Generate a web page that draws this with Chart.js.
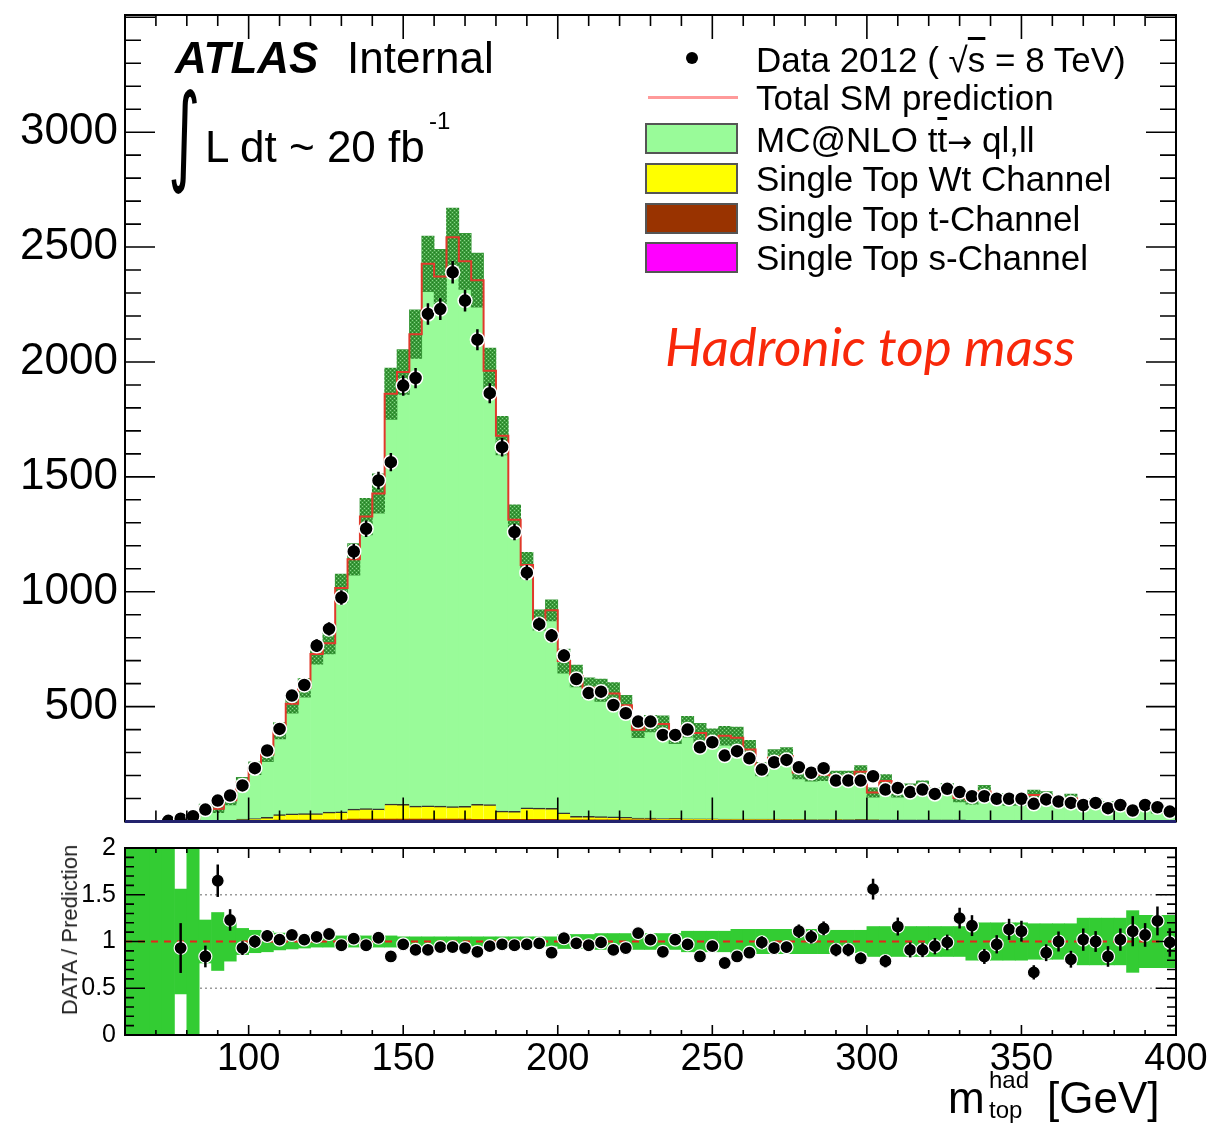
<!DOCTYPE html>
<html lang="en">
<head>
<meta charset="UTF-8">
<title>Hadronic top mass</title>
<script src="https://cdn.jsdelivr.net/npm/chart.js"></script>
<style>
    body {
        margin: 0;
        background: #fff;
        width: 1208px;
        height: 1123px;
        position: relative;
        overflow: hidden;
        font-family: "Liberation Sans", Arial, sans-serif;
    }
    canvas { position: absolute; left: 0; }
    #mainChart { top: 0; }
    #ratioChart { top: 830px; }
    .txt { position: absolute; white-space: nowrap; line-height: 1; color: #000; z-index: 5; }
    .leg { font-size: 35px; left: 756px; }
    .box { position: absolute; left: 645px; width: 89px; height: 27px; border: 2px solid #555; z-index: 5; }
    .ov { text-decoration: overline; }
</style>
</head>
<body>
    <canvas id="mainChart" width="1208" height="830"></canvas>
    <canvas id="ratioChart" width="1208" height="293"></canvas>

    <!-- ATLAS label -->
    <div class="txt" style="left:175px;top:36px;font-size:44px;font-weight:bold;font-style:italic;">ATLAS</div>
    <div class="txt" style="left:347px;top:36px;font-size:44px;">Internal</div>
    <div class="txt" style="left:168px;top:80px;font-size:62px;font-family:'DejaVu Sans';transform:scale(1.0,1.75);transform-origin:top left;">∫</div>
    <div class="txt" style="left:205px;top:125px;font-size:44px;">L dt ~ 20 fb</div>
    <div class="txt" style="left:429px;top:109px;font-size:24px;">-1</div>

    <!-- legend -->
    <div style="position:absolute;left:686px;top:52px;width:12px;height:12px;border-radius:50%;background:#000;z-index:5;"></div>
    <div style="position:absolute;left:648px;top:96px;width:90px;height:3px;background:#ff9a9a;z-index:5;"></div>
    <div class="box" style="top:123px;background:#99fb99;"></div>
    <div class="box" style="top:163px;background:#ffff00;"></div>
    <div class="box" style="top:203px;background:#993300;"></div>
    <div class="box" style="top:242px;background:#ff00ff;"></div>
    <div class="txt leg" style="top:42px;">Data 2012 ( √<span class="ov">s</span> = 8 TeV)</div>
    <div class="txt leg" style="top:80px;">Total SM prediction</div>
    <div class="txt leg" style="top:122px;">MC@NLO t<span class="ov">t</span><span style="font-family:'DejaVu Sans';font-size:30px;">→</span> ql,ll</div>
    <div class="txt leg" style="top:161px;">Single Top Wt Channel</div>
    <div class="txt leg" style="top:201px;">Single Top t-Channel</div>
    <div class="txt leg" style="top:240px;">Single Top s-Channel</div>

    <div class="txt" style="left:665px;top:319px;font-size:53px;font-family:Lato,'Open Sans',sans-serif;font-style:italic;color:#f8280a;">Hadronic top mass</div>

    <!-- axis titles -->
    <div class="txt" style="left:70px;top:930px;font-size:22px;color:#222;transform:translate(-50%,-50%) rotate(-90deg);">DATA / Prediction</div>
    <div class="txt" style="left:948px;top:1076px;font-size:44px;">m</div>
    <div class="txt" style="left:989px;top:1068px;font-size:24px;">had</div>
    <div class="txt" style="left:989px;top:1098px;font-size:24px;">top</div>
    <div class="txt" style="left:1047px;top:1076px;font-size:44px;">[GeV]</div>

<script>
    // 4 GeV bins between 60 and 400 GeV (bin centres)
    const binCentres = [
        62, 66, 70, 74, 78, 82, 86, 90, 94, 98,
        102, 106, 110, 114, 118, 122, 126, 130, 134, 138,
        142, 146, 150, 154, 158, 162, 166, 170, 174, 178,
        182, 186, 190, 194, 198, 202, 206, 210, 214, 218,
        222, 226, 230, 234, 238, 242, 246, 250, 254, 258,
        262, 266, 270, 274, 278, 282, 286, 290, 294, 298,
        302, 306, 310, 314, 318, 322, 326, 330, 334, 338,
        342, 346, 350, 354, 358, 362, 366, 370, 374, 378,
        382, 386, 390, 394, 398
    ];
    const binWidth = 4;

    // Data 2012
    const dataCounts = [
        null, null, null, 3, 12, 23, 52, 91, 113, 157,
        232, 309, 403, 548, 594, 765, 838, 975, 1175, 1274,
        1484, 1564, 1897, 1930, 2209, 2230, 2390, 2267, 2097, 1864,
        1629, 1260, 1083, 859, 809, 722, 620, 559, 565, 507,
        471, 435, 435, 377, 377, 400, 323, 345, 287, 306,
        275, 226, 258, 268, 236, 212, 232, 178, 178, 178,
        197, 139, 146, 128, 139, 120, 142, 128, 110, 110,
        99, 99, 99, 77, 96, 87, 81, 72, 81, 58,
        72, 48, 72, 62, 43
    ];

    // MC@NLO ttbar -> ql,ll
    const ttbarMC = [
        0, 0, 0, 0, 13, 0, 60, 52, 88, 159,
        219, 274, 365, 479, 548, 694, 735, 974, 1087, 1271,
        1372, 1786, 1881, 2054, 2359, 2305, 2478, 2372, 2281, 1888,
        1634, 1269, 1057, 819, 862, 660, 610, 560, 550, 537,
        488, 384, 411, 411, 356, 400, 373, 351, 362, 353,
        302, 218, 267, 276, 204, 194, 196, 187, 188, 208,
        118, 169, 119, 134, 146, 119, 136, 95, 89, 126,
        97, 83, 84, 110, 104, 82, 95, 66, 76, 64,
        66, 38, 62, 46, 38
    ];

    // single top Wt channel
    const singleTopWt = [
        0, 0, 0, 0, 0, 0, 2, 3, 4, 8,
        10, 14, 24, 27, 28, 28, 34, 35, 44, 46,
        45, 66, 65, 57, 58, 57, 55, 56, 66, 65,
        36, 35, 50, 49, 48, 31, 16, 15, 14, 13,
        11, 8, 8, 7, 8, 6, 6, 6, 5, 5,
        5, 4, 4, 4, 4, 3, 3, 4, 4, 5,
        4, 3, 3, 3, 3, 3, 3, 3, 2, 2,
        2, 2, 2, 2, 2, 2, 2, 2, 2, 2,
        2, 2, 2, 2, 2
    ];

    // single top t-channel
    const singleTopT = [
        0, 0, 0, 0, 0, 0, 0, 0, 0, 1,
        2, 3, 5, 5, 5, 6, 6, 6, 9, 9,
        9, 9, 9, 9, 9, 9, 9, 9, 8, 8,
        8, 8, 8, 8, 8, 6, 6, 6, 6, 6,
        6, 6, 6, 5, 5, 5, 5, 5, 5, 5,
        5, 5, 5, 4, 4, 4, 4, 4, 4, 4,
        4, 4, 4, 4, 4, 4, 4, 4, 3, 3,
        3, 3, 3, 3, 3, 3, 3, 3, 3, 3,
        3, 3, 3, 3, 3
    ];

    // single top s-channel
    const singleTopS = [
        0, 0, 0, 0, 0, 0, 0, 0, 0, 1,
        1, 1, 1, 1, 1, 1, 1, 1, 1, 1,
        1, 1, 1, 1, 1, 1, 1, 1, 1, 1,
        1, 1, 1, 1, 1, 1, 1, 1, 1, 1,
        1, 1, 1, 1, 1, 1, 1, 1, 1, 1,
        1, 1, 1, 1, 1, 1, 1, 1, 0, 0,
        0, 0, 0, 0, 0, 0, 0, 0, 0, 0,
        0, 0, 0, 0, 0, 0, 0, 0, 0, 0,
        0, 0, 0, 0, 0
    ];

    // DATA / Prediction
    const ratioValues = [
        null, null, null, null, 0.93, null, 0.84, 1.65, 1.23, 0.93,
        1.00, 1.06, 1.02, 1.07, 1.02, 1.05, 1.08, 0.96, 1.03, 0.96,
        1.04, 0.84, 0.97, 0.91, 0.91, 0.94, 0.94, 0.93, 0.89, 0.95,
        0.97, 0.96, 0.97, 0.98, 0.88, 1.035, 0.98, 0.96, 0.99, 0.91,
        0.93, 1.09, 1.02, 0.89, 1.02, 0.97, 0.84, 0.95, 0.77, 0.84,
        0.88, 0.99, 0.93, 0.94, 1.11, 1.05, 1.14, 0.91, 0.91, 0.82,
        1.56, 0.79, 1.16, 0.91, 0.91, 0.95, 0.99, 1.25, 1.17, 0.84,
        0.97, 1.13, 1.11, 0.67, 0.88, 1.00, 0.81, 1.02, 1.00, 0.84,
        1.02, 1.11, 1.07, 1.22, 0.99
    ];

    // relative uncertainty of the prediction (9 = band fills the whole panel)
    const mcRelErr = [
        9, 9, 9, 9, 0.56, 9, 0.23, 0.31, 0.21, 0.14,
        0.12, 0.11, 0.09, 0.08, 0.07, 0.06, 0.06, 0.06, 0.06, 0.06,
        0.06, 0.06, 0.05, 0.05, 0.05, 0.05, 0.05, 0.05, 0.05, 0.05,
        0.05, 0.05, 0.05, 0.05, 0.05, 0.075, 0.075, 0.075, 0.085, 0.085,
        0.085, 0.085, 0.085, 0.085, 0.085, 0.11, 0.11, 0.11, 0.11, 0.13,
        0.13, 0.13, 0.13, 0.13, 0.13, 0.13, 0.13, 0.12, 0.12, 0.12,
        0.16, 0.16, 0.16, 0.16, 0.16, 0.16, 0.16, 0.16, 0.2, 0.2,
        0.2, 0.2, 0.2, 0.19, 0.19, 0.19, 0.19, 0.25, 0.25, 0.25,
        0.25, 0.33, 0.28, 0.28, 0.28
    ];

    const xTicks = [100, 150, 200, 250, 300, 350, 400];
    const mainYTicks = [500, 1000, 1500, 2000, 2500, 3000];
    const ratioYTicks = [0, 0.5, 1, 1.5, 2];

    Chart.defaults.font.family = '"Liberation Sans", Arial, sans-serif';
    Chart.defaults.color = '#000';
    Chart.defaults.animation = false;

    // total prediction = sum of the stack
    const totalMC = binCentres.map((c, i) => ttbarMC[i] + singleTopWt[i] + singleTopT[i] + singleTopS[i]);

    const pts = arr => binCentres.map((c, i) => ({x: c, y: arr[i]}));

    // keep the plot frame exactly where the layout padding puts it
    function noLabelPadding(s) {
        s.paddingTop = 0; s.paddingBottom = 0;
        s.paddingLeft = 0; s.paddingRight = 0;
    }

    // ROOT style frame with ticks pointing inwards
    const frameTicks = {
        id: 'frameTicks',
        afterDraw(chart, args, o) {
            const {ctx, chartArea: a} = chart;
            const x = chart.scales.x, y = chart.scales.y;
            ctx.save();
            ctx.strokeStyle = '#000';
            ctx.lineWidth = 1.6;
            ctx.beginPath();
            for (let v = Math.ceil(x.min / o.xStep) * o.xStep; v <= x.max; v += o.xStep) {
                const px = x.getPixelForValue(v);
                const len = (Math.round(v) % o.xMajor === 0) ? o.xLen[1] : o.xLen[0];
                ctx.moveTo(px, a.bottom); ctx.lineTo(px, a.bottom - len);
                ctx.moveTo(px, a.top); ctx.lineTo(px, a.top + len);
            }
            for (let k = 0; k * o.yStep <= y.max + 1e-9; k++) {
                const v = k * o.yStep;
                const py = y.getPixelForValue(v);
                const len = (k % o.yMajorEvery === 0) ? o.yLen[1] : o.yLen[0];
                ctx.moveTo(a.left, py); ctx.lineTo(a.left + len, py);
                ctx.moveTo(a.right, py); ctx.lineTo(a.right - len, py);
            }
            ctx.stroke();
            ctx.lineWidth = 2;
            ctx.strokeRect(a.left, a.top, a.right - a.left, a.bottom - a.top);
            if (o.bottomColor) {
                ctx.strokeStyle = o.bottomColor;
                ctx.lineWidth = 3;
                ctx.beginPath();
                ctx.moveTo(a.left, a.bottom); ctx.lineTo(a.right, a.bottom);
                ctx.stroke();
            }
            ctx.restore();
        }
    };

    // vertical error bars on the data points
    const errorBars = {
        id: 'errorBars',
        afterDatasetsDraw(chart, args, o) {
            const {ctx, chartArea: a} = chart;
            const meta = chart.getDatasetMeta(o.datasetIndex);
            const y = chart.scales.y;
            ctx.save();
            ctx.beginPath();
            ctx.rect(a.left, a.top, a.right - a.left, a.bottom - a.top);
            ctx.clip();
            ctx.strokeStyle = '#000';
            ctx.lineWidth = 2.5;
            meta.data.forEach((p, i) => {
                const v = o.values[i], e = o.errors[i];
                if (v == null || e == null || p.skip) return;
                ctx.beginPath();
                ctx.moveTo(p.x, y.getPixelForValue(v - e));
                ctx.lineTo(p.x, y.getPixelForValue(v + e));
                ctx.stroke();
            });
            ctx.restore();
        }
    };

    // hatch pattern for the MC uncertainty
    const mainCtx = document.getElementById('mainChart').getContext('2d');
    const hc = document.createElement('canvas');
    hc.width = 4; hc.height = 4;
    const hg = hc.getContext('2d');
    hg.fillStyle = '#3a9a3a'; hg.fillRect(0, 0, 4, 4);
    hg.fillStyle = '#86d486'; hg.fillRect(0, 0, 1, 1); hg.fillRect(2, 2, 1, 1);
    hg.fillStyle = '#267a26'; hg.fillRect(2, 0, 1, 1); hg.fillRect(0, 2, 1, 1);
    const hatch = mainCtx.createPattern(hc, 'repeat');

    // step outline of the total prediction
    const totalStep = [];
    binCentres.forEach((c, i) => {
        totalStep.push({x: c - binWidth / 2, y: totalMC[i]});
        totalStep.push({x: c + binWidth / 2, y: totalMC[i]});
    });

    const barCommon = {type: 'bar', barPercentage: 1, categoryPercentage: 1, borderWidth: 0, yAxisID: 'y', clip: 0};

    new Chart(mainCtx, {
        type: 'bar',
        data: {
            datasets: [
                {type: 'line', label: 'Data 2012', data: pts(dataCounts), showLine: false,
                 pointRadius: 7, pointBackgroundColor: '#000', pointBorderColor: '#fff', pointBorderWidth: 1.5, order: 0},
                {type: 'line', label: 'Total SM prediction', data: totalStep, borderColor: '#e0392b', borderWidth: 2,
                 pointRadius: 0, tension: 0, order: 1},
                {type: 'bar', label: 'MC uncertainty', yAxisID: 'yb', grouped: false, barPercentage: 1, categoryPercentage: 1,
                 data: binCentres.map((c, i) => ({x: c, y: totalMC[i] > 0 ? [totalMC[i] * (1 - mcRelErr[i]), totalMC[i] * (1 + mcRelErr[i])] : null})),
                 backgroundColor: hatch, borderWidth: 0, clip: 0, order: 2},
                Object.assign({label: 'Single Top s-Channel', data: pts(singleTopS), backgroundColor: '#ff00ff', order: 3}, barCommon),
                Object.assign({label: 'Single Top t-Channel', data: pts(singleTopT), backgroundColor: '#993300', order: 4}, barCommon),
                Object.assign({label: 'Single Top Wt Channel', data: pts(singleTopWt), backgroundColor: '#ffff00',
                               borderColor: '#333', borderSkipped: 'bottom', order: 5}, barCommon, {borderWidth: {top: 1.5}}),
                Object.assign({label: 'MC@NLO ttbar', data: pts(ttbarMC), backgroundColor: '#99fb99', order: 6}, barCommon)
            ]
        },
        options: {
            responsive: false,
            layout: {padding: {top: 15, right: 32, bottom: 0, left: 0}},
            plugins: {
                legend: {display: false},
                tooltip: {enabled: false},
                frameTicks: {xStep: 10, xMajor: 50, xLen: [11, 24], yStep: 100, yMajorEvery: 5, yLen: [16, 30], bottomColor: '#23236e'},
                errorBars: {datasetIndex: 0, values: dataCounts, errors: dataCounts.map(v => v == null ? null : Math.sqrt(v))}
            },
            scales: {
                x: {
                    type: 'linear', min: 60, max: 400, offset: false, stacked: true,
                    grid: {display: false, drawTicks: false, offset: false}, border: {display: false},
                    ticks: {display: false},
                    afterFit(s) { s.height = 7; noLabelPadding(s); }
                },
                y: {
                    type: 'linear', min: 0, max: 3510, stacked: true,
                    grid: {display: false, drawTicks: false}, border: {display: false},
                    ticks: {font: {size: 44}, padding: 7, callback: v => String(v)},
                    afterBuildTicks(s) { s.ticks = mainYTicks.map(v => ({value: v})); },
                    afterFit(s) { s.width = 125; noLabelPadding(s); }
                },
                yb: {type: 'linear', min: 0, max: 3510, display: false, stacked: false}
            }
        },
        plugins: [frameTicks, errorBars]
    });

    const ratioErrors = binCentres.map((c, i) => (ratioValues[i] == null ? null : Math.sqrt(dataCounts[i]) / totalMC[i]));

    new Chart(document.getElementById('ratioChart'), {
        type: 'bar',
        data: {
            datasets: [
                {type: 'line', label: 'ratio', data: pts(ratioValues), showLine: false,
                 pointRadius: 6.5, pointBackgroundColor: '#000', pointBorderColor: '#fff', pointBorderWidth: 1.2, order: 0},
                {type: 'line', label: 'one', data: [{x: 60, y: 1}, {x: 400, y: 1}], borderColor: '#e8231b',
                 borderWidth: 2, borderDash: [7, 6], pointRadius: 0, order: 1},
                {type: 'bar', label: 'uncertainty', grouped: false, barPercentage: 1, categoryPercentage: 1, clip: 0,
                 data: binCentres.map((c, i) => ({x: c, y: [1 - mcRelErr[i], 1 + mcRelErr[i]]})),
                 backgroundColor: '#33cc33', borderWidth: 0, order: 2},
                {type: 'line', label: 'half', data: [{x: 60, y: 0.5}, {x: 400, y: 0.5}], borderColor: '#9a9a9a',
                 borderWidth: 1.5, borderDash: [2, 3], pointRadius: 0, order: 3},
                {type: 'line', label: 'oneandhalf', data: [{x: 60, y: 1.5}, {x: 400, y: 1.5}], borderColor: '#9a9a9a',
                 borderWidth: 1.5, borderDash: [2, 3], pointRadius: 0, order: 4}
            ]
        },
        options: {
            responsive: false,
            layout: {padding: {top: 18, right: 32, bottom: 0, left: 0}},
            plugins: {
                legend: {display: false},
                tooltip: {enabled: false},
                frameTicks: {xStep: 10, xMajor: 50, xLen: [5, 10], yStep: 0.1, yMajorEvery: 5, yLen: [9, 20]},
                errorBars: {datasetIndex: 0, values: ratioValues, errors: ratioErrors}
            },
            scales: {
                x: {
                    type: 'linear', min: 60, max: 400, offset: false,
                    grid: {display: false, drawTicks: false, offset: false}, border: {display: false},
                    ticks: {font: {size: 38}, padding: 2, maxRotation: 0},
                    afterBuildTicks(s) { s.ticks = xTicks.map(v => ({value: v})); },
                    afterFit(s) { s.height = 88; noLabelPadding(s); }
                },
                y: {
                    type: 'linear', min: 0, max: 2,
                    grid: {display: false, drawTicks: false}, border: {display: false},
                    ticks: {font: {size: 25}, padding: 9, callback: v => String(v)},
                    afterBuildTicks(s) { s.ticks = ratioYTicks.map(v => ({value: v})); },
                    afterFit(s) { s.width = 125; noLabelPadding(s); }
                }
            }
        },
        plugins: [frameTicks, errorBars]
    });
</script>
</body>
</html>
